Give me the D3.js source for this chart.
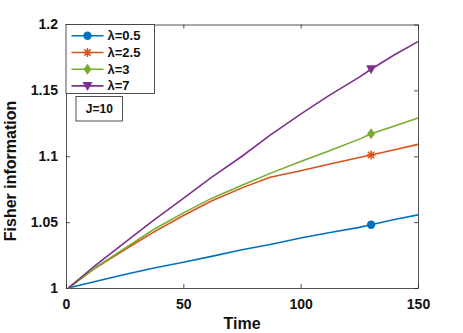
<!DOCTYPE html>
<html>
<head>
<meta charset="utf-8">
<script src="https://cdn.jsdelivr.net/npm/d3@7"></script>
<style>
  body { margin: 0; background: #fff; }
  text { font-family: "Liberation Sans", Arial, sans-serif; font-weight: bold; }
</style>
</head>
<body>
<div id="chart"></div>
<script>
// time samples shared by every series
var times = [1, 12, 25, 37, 50, 62, 75, 87, 100, 112, 125, 130, 140, 150];

// Fisher information
var lam05 = [1.000, 1.0048, 1.0102, 1.015, 1.0195, 1.024, 1.029, 1.033, 1.038, 1.042, 1.046, 1.048, 1.052, 1.0555];
var lam25 = [1.000, 1.0145, 1.029, 1.042, 1.055, 1.066, 1.076, 1.084, 1.089, 1.094, 1.099, 1.101, 1.105, 1.109];
var lam3  = [1.000, 1.0148, 1.030, 1.044, 1.057, 1.068, 1.078, 1.087, 1.096, 1.104, 1.113, 1.117, 1.123, 1.129];
var lam7  = [1.000, 1.0165, 1.0345, 1.051, 1.068, 1.084, 1.100, 1.116, 1.132, 1.146, 1.160, 1.166, 1.177, 1.187];

var seriesNames = ["λ=0.5", "λ=2.5", "λ=3", "λ=7"];
var colors = ["#0072BD", "#D95319", "#77AC30", "#7E2F8E"];
var markerTypes = ["circle", "asterisk", "diamond", "triangle"];
var markerAt = 130;

var xTicks = [0, 50, 100, 150];
var yTicks = [1, 1.05, 1.1, 1.15, 1.2];
var yTickLabels = ["1", "1.05", "1.1", "1.15", "1.2"];

var W = 463, H = 333;
var margin = {top: 24.5, right: 45, bottom: 45, left: 66};
var width = W - margin.left - margin.right,
    height = H - margin.top - margin.bottom;

var svg = d3.select("#chart").append("svg")
    .attr("width", W).attr("height", H);
var g = svg.append("g")
    .attr("transform", "translate(" + margin.left + "," + margin.top + ")");

var x = d3.scaleLinear().domain([0, 150]).range([0, width]);
var y = d3.scaleLinear().domain([1, 1.2]).range([height, 0]);

var axisColor = "#262626";

// axes with inward ticks, mirrored on top/right
var xAxis = g.append("g").attr("transform", "translate(0," + height + ")")
    .call(d3.axisBottom(x).tickValues(xTicks).tickSizeInner(-4).tickSizeOuter(0).tickPadding(8));
var xTop = g.append("g")
    .call(d3.axisTop(x).tickValues(xTicks).tickSizeInner(-4).tickSizeOuter(0).tickFormat(""));
var yAxis = g.append("g")
    .call(d3.axisLeft(y).tickValues(yTicks).tickSizeInner(-4).tickSizeOuter(0).tickPadding(8)
      .tickFormat(function(d, i) { return yTickLabels[i]; }));
var yRight = g.append("g").attr("transform", "translate(" + width + ",0)")
    .call(d3.axisRight(y).tickValues(yTicks).tickSizeInner(-4).tickSizeOuter(0).tickFormat(""));

[xAxis, xTop, yAxis, yRight].forEach(function(a) {
  a.select(".domain").attr("stroke", axisColor).attr("stroke-width", 0.8);
  a.selectAll(".tick line").attr("stroke", axisColor).attr("stroke-width", 0.8);
  a.selectAll(".tick text").attr("fill", "#111").style("font-size", "14px");
});
xAxis.selectAll(".tick text").attr("dy", "0.9em");

// lines
var allSeries = [lam05, lam25, lam3, lam7];
var line = d3.line()
    .x(function(d) { return x(d[0]); })
    .y(function(d) { return y(d[1]); });

allSeries.forEach(function(vals, i) {
  var pts = times.map(function(t, j) { return [t, vals[j]]; });
  g.append("path")
    .datum(pts)
    .attr("fill", "none")
    .attr("stroke", colors[i])
    .attr("stroke-width", 1.6)
    .attr("d", line);
});

// marker helper
function drawMarker(sel, type, color, cx, cy) {
  if (type == "circle") {
    sel.append("circle").attr("cx", cx).attr("cy", cy).attr("r", 4.2)
      .attr("fill", color);
  } else if (type == "diamond") {
    sel.append("path")
      .attr("d", "M" + cx + "," + (cy - 5.5) + "L" + (cx + 4) + "," + cy + "L" + cx + "," + (cy + 5.5) + "L" + (cx - 4) + "," + cy + "Z")
      .attr("fill", color);
  } else if (type == "triangle") {
    sel.append("path")
      .attr("d", "M" + (cx - 5) + "," + (cy - 4) + "L" + (cx + 5) + "," + (cy - 4) + "L" + cx + "," + (cy + 5) + "Z")
      .attr("fill", color);
  } else {
    var r = 4.5, p = "";
    [0, 45, 90, 135].forEach(function(a) {
      var rad = a * Math.PI / 180;
      p += "M" + (cx - r * Math.cos(rad)) + "," + (cy - r * Math.sin(rad)) +
           "L" + (cx + r * Math.cos(rad)) + "," + (cy + r * Math.sin(rad));
    });
    sel.append("path").attr("d", p).attr("stroke", color).attr("stroke-width", 1.5).attr("fill", "none");
  }
}

var mi = times.indexOf(markerAt);
allSeries.forEach(function(vals, i) {
  drawMarker(g, markerTypes[i], colors[i], x(times[mi]), y(vals[mi]));
});

// legend
var legend = g.append("g").attr("transform", "translate(0,0)");
legend.append("rect")
  .attr("x", 0).attr("y", 0).attr("width", 88.5).attr("height", 69)
  .attr("fill", "#fff").attr("stroke", axisColor).attr("stroke-width", 0.8);
seriesNames.forEach(function(name, i) {
  var ly = 11.3 + i * 16.7;
  legend.append("line")
    .attr("x1", 5.5).attr("x2", 37.5).attr("y1", ly).attr("y2", ly)
    .attr("stroke", colors[i]).attr("stroke-width", 1.6);
  drawMarker(legend, markerTypes[i], colors[i], 21.5, ly);
  legend.append("text")
    .attr("x", 41.5).attr("y", ly).attr("dy", "0.35em")
    .style("font-size", "13px").attr("fill", "#111")
    .text(name);
});

// J=10 annotation box
var ann = g.append("g").attr("transform", "translate(10,72)");
ann.append("rect")
  .attr("x", 0).attr("y", 0).attr("width", 46.5).attr("height", 24.5)
  .attr("fill", "#fff").attr("stroke", axisColor).attr("stroke-width", 0.8);
ann.append("text")
  .attr("x", 23.3).attr("y", 12.5).attr("dy", "0.35em")
  .attr("text-anchor", "middle").style("font-size", "12px").attr("fill", "#111")
  .text("J=10");

// axis titles
svg.append("text")
  .attr("x", margin.left + width / 2).attr("y", 329)
  .attr("text-anchor", "middle").style("font-size", "16px").attr("fill", "#111")
  .text("Time");
svg.append("text")
  .attr("transform", "translate(16,171)rotate(-90)")
  .attr("text-anchor", "middle").style("font-size", "16px").attr("fill", "#111")
  .text("Fisher information");
</script>
</body>
</html>
